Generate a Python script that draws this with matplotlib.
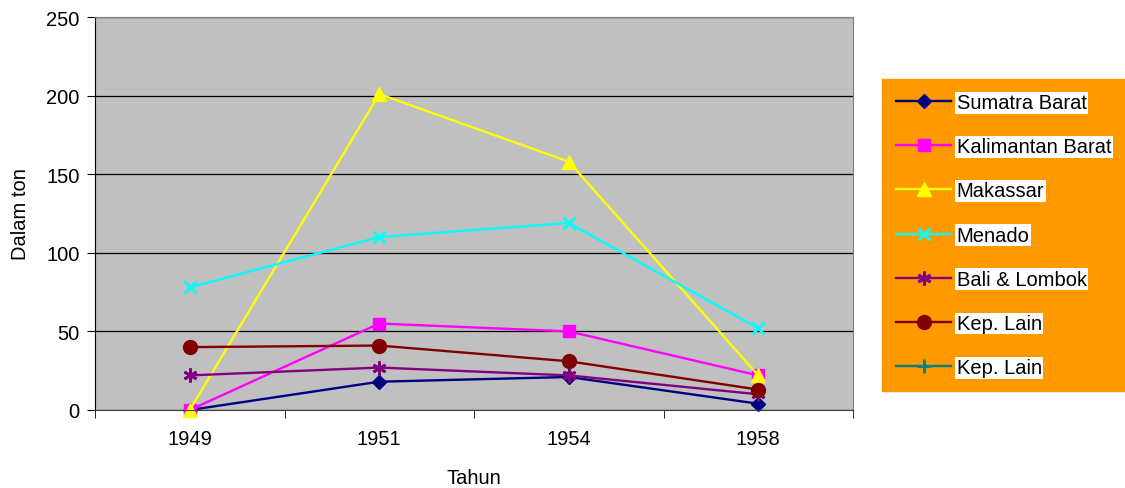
import numpy as np
import matplotlib.pyplot as plt
from matplotlib.ticker import FixedLocator

plt.rcParams['font.family'] = ['Liberation Sans', 'DejaVu Sans']

years = ["1949", "1951", "1954", "1958"]
sumatra_barat = [0, 18, 21, 4]
kalimantan_barat = [0, 55, 50, 22]
makassar = [0, 201, 158, 22]
menado = [78, 110, 119, 52]
bali_lombok = [22, 27, 22, 10]
kep_lain = [40, 41, 31, 13]
kep_lain_2 = [np.nan, np.nan, np.nan, np.nan]

series = [
    ("Sumatra Barat", sumatra_barat, "#000080", "D", 7),
    ("Kalimantan Barat", kalimantan_barat, "#FF00FF", "s", 9),
    ("Makassar", makassar, "#FFFF00", "^", 10),
    ("Menado", menado, "#00FFFF", "x", 9),
    ("Bali & Lombok", bali_lombok, "#800080", (6, 2, 0), 10),
    ("Kep. Lain", kep_lain, "#800000", "o", 10),
    ("Kep. Lain", kep_lain_2, "#008080", "+", 10),
]

fs = 14.5

fig = plt.figure(figsize=(11.25, 4.89), dpi=100)
ax = fig.add_axes([95 / 1125, 78 / 489, 758 / 1125, 393 / 489])
ax.set_facecolor("#C0C0C0")

x = np.arange(len(years))
for label, vals, color, marker, ms in series:
    mew = 2 if marker in ("x", "+") or isinstance(marker, tuple) else 1
    ax.plot(x, vals, color=color, lw=1.7, marker=marker, ms=ms,
            mfc=color, mec=color, mew=mew, label=label, clip_on=False)

ax.set_xlim(-0.5, len(years) - 0.5)
ax.set_ylim(0, 250)
ax.set_yticks([0, 50, 100, 150, 200, 250])
ax.yaxis.grid(True, color="black", lw=0.9)
ax.set_axisbelow(True)

ax.set_xticks(x)
ax.set_xticklabels(years)
ax.xaxis.set_minor_locator(FixedLocator(np.arange(-0.5, len(years), 1.0)))
ax.tick_params(axis="x", which="major", length=0, pad=14, labelsize=fs)
ax.tick_params(axis="x", which="minor", length=6, direction="out", color="black")
ax.tick_params(axis="y", length=6, direction="out", labelsize=fs, pad=5)

for side in ("top", "right"):
    ax.spines[side].set_color("#808080")
ax.spines["left"].set_color("black")
ax.spines["bottom"].set_color("#404040")

ax.set_ylabel("Dalam ton", fontsize=fs, labelpad=12)
ax.set_xlabel("Tahun", fontsize=fs, labelpad=14)

leg = fig.legend(loc="upper left", bbox_to_anchor=(882 / 1125, 1 - 80 / 489),
                 fontsize=fs, frameon=True, fancybox=False,
                 facecolor="#FF9900", edgecolor="#FF9900", framealpha=1,
                 handlelength=2.75, handletextpad=0.25, labelspacing=1.25,
                 borderpad=0.7, borderaxespad=0)
for t in leg.get_texts():
    t.set_bbox(dict(facecolor="white", edgecolor="none", pad=1.0))

fig.savefig("out.png", dpi=100)
